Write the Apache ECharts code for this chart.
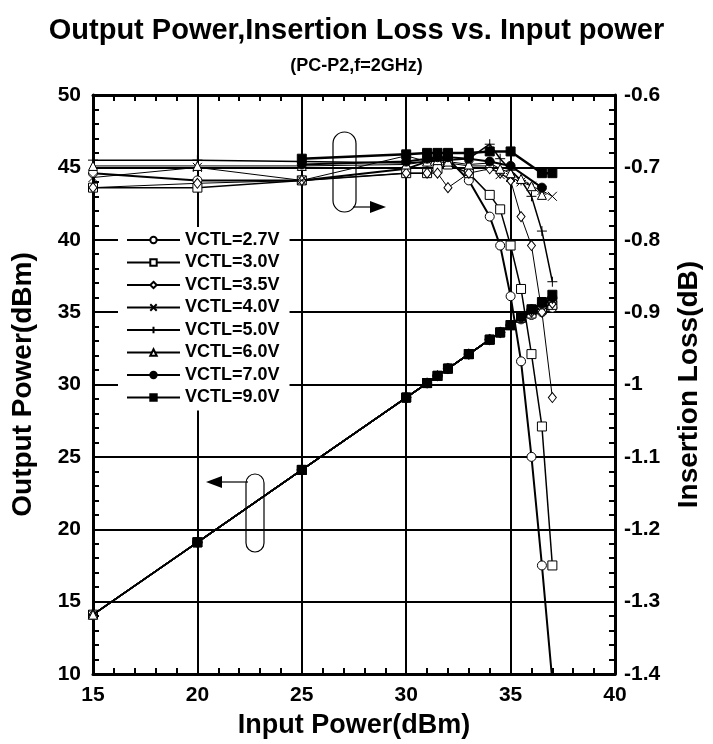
<!DOCTYPE html>
<html>
<head>
<meta charset="utf-8">
<script src="https://cdn.jsdelivr.net/npm/echarts@6/dist/echarts.min.js"></script>
<style>
html, body { margin: 0; padding: 0; background: #fff; }
#main { width: 713px; height: 744px; }
</style>
</head>
<body>
<div id="main"></div>
<script>
var FONT = '"Liberation Sans", Arial, sans-serif';

// input power (dBm), x positions of the measured points
var inputPower = [15, 20, 25, 30, 31, 31.5, 32, 33, 34, 34.5, 35, 35.5, 36, 36.5, 37];
var vctlNames = ['VCTL=2.7V', 'VCTL=3.0V', 'VCTL=3.5V', 'VCTL=4.0V', 'VCTL=5.0V', 'VCTL=6.0V', 'VCTL=7.0V', 'VCTL=9.0V'];
var xTicks = [15, 20, 25, 30, 35, 40];

// output power (dBm), left axis
var outP27 = [14.1, 19.1, 24.1, 29.1, 30.1, 30.6, 31.1, 32.1, 33.1, 33.6, 34.1, 34.5, 34.8, 35.0, 35.3];
var outP30 = [14.1, 19.1, 24.1, 29.1, 30.1, 30.6, 31.1, 32.1, 33.1, 33.6, 34.1, 34.6, 34.9, 35.2, 35.5];
var outP35 = [14.1, 19.1, 24.1, 29.1, 30.1, 30.6, 31.1, 32.1, 33.1, 33.6, 34.1, 34.6, 35.0, 35.3, 35.6];
var outP40 = [14.1, 19.1, 24.1, 29.1, 30.1, 30.6, 31.1, 32.1, 33.1, 33.6, 34.1, 34.7, 35.1, 35.5, 35.8];
var outP50 = [14.1, 19.1, 24.1, 29.1, 30.1, 30.6, 31.1, 32.1, 33.1, 33.6, 34.1, 34.7, 35.1, 35.5, 35.9];
var outP60 = [14.1, 19.1, 24.1, 29.1, 30.1, 30.6, 31.1, 32.1, 33.1, 33.6, 34.1, 34.7, 35.2, 35.6, 36.0];
var outP70 = [null, 19.1, 24.1, 29.1, 30.1, 30.6, 31.1, 32.1, 33.1, 33.6, 34.1, 34.7, 35.2, 35.6, 36.0];
var outP90 = [null, 19.1, 24.1, 29.1, 30.1, 30.6, 31.1, 32.1, 33.1, 33.6, 34.1, 34.7, 35.2, 35.7, 36.2];

// insertion loss (dB), right axis
var loss27 = [-0.708, -0.718, -0.718, -0.702, -0.692, -0.688, -0.688, -0.718, -0.768, -0.808, -0.878, -0.968, -1.100, -1.250, -1.410];
var loss30 = [-0.728, -0.728, -0.718, -0.708, -0.708, -0.702, -0.696, -0.708, -0.738, -0.758, -0.808, -0.868, -0.958, -1.058, -1.250];
var loss35 = [-0.728, -0.722, -0.718, -0.708, -0.708, -0.708, -0.728, -0.708, -0.702, -0.708, -0.718, -0.768, -0.808, -0.900, -1.018];
var loss40 = [-0.714, -0.700, -0.718, -0.684, -0.692, -0.692, -0.694, -0.698, -0.698, -0.710, -0.714, -0.720, -0.726, -0.732, -0.740];
var loss50 = [-0.690, -0.690, -0.692, -0.694, -0.692, -0.690, -0.690, -0.688, -0.668, -0.688, -0.704, -0.718, -0.740, -0.788, -0.858];
var loss60 = [-0.698, -0.698, -0.698, -0.696, -0.692, -0.690, -0.692, -0.696, -0.694, -0.702, -0.708, -0.716, -0.726, -0.738, null];
var loss70 = [null, null, -0.696, -0.692, -0.688, -0.686, -0.686, -0.688, -0.692, null, -0.698, null, null, -0.728, null];
var loss90 = [null, null, -0.688, -0.682, -0.680, -0.680, -0.680, -0.680, -0.678, null, -0.678, null, null, -0.708, -0.708];

var outputs = [outP27, outP30, outP35, outP40, outP50, outP60, outP70, outP90];
var losses = [loss27, loss30, loss35, loss40, loss50, loss60, loss70, loss90];

var symbols = [
  { s: 'circle', size: 9, fill: '#fff' },
  { s: 'rect', size: 9, fill: '#fff' },
  { s: 'diamond', size: [8, 10], fill: '#fff' },
  { s: 'path://M0,0L10,10M10,0L0,10', size: 9, fill: '#000' },
  { s: 'path://M5,0L5,10M0,5L10,5', size: 10, fill: '#000' },
  { s: 'triangle', size: 9, fill: '#fff' },
  { s: 'circle', size: 9, fill: '#000' },
  { s: 'rect', size: 9, fill: '#000' }
];
var lossWidth = [2, 1.5, 1, 1, 1.5, 1, 2, 2.5];

function pairs(arr) {
  return inputPower.map(function (x, i) { return [x, arr[i]]; });
}

function makeSeries(i, arr, yIndex, width) {
  var sym = symbols[i];
  return {
    name: vctlNames[i],
    type: 'line',
    yAxisIndex: yIndex,
    data: pairs(arr),
    symbol: sym.s,
    symbolSize: sym.size,
    showSymbol: true,
    connectNulls: true,
    clip: true,
    lineStyle: { color: '#000', width: width },
    itemStyle: { color: sym.fill, borderColor: '#000', borderWidth: 1 },
    z: 2 + i
  };
}

var series = [];
for (var i = 0; i < 8; i++) {
  series.push(makeSeries(i, outputs[i], 0, 1.5));
  series.push(makeSeries(i, losses[i], 1, lossWidth[i]));
}

var bold = { fontFamily: FONT, fontWeight: 'bold', color: '#000' };
var minor = { show: true, splitNumber: 5, length: 6, lineStyle: { color: '#000', width: 2 } };
var edge = { show: true, lineStyle: { color: '#000', width: 3 } };

var option = {
  animation: false,
  backgroundColor: '#fff',
  title: [
    { text: 'Output Power,Insertion Loss vs. Input power', left: 'center', top: 11,
      textStyle: Object.assign({ fontSize: 29 }, bold) },
    { text: '(PC-P2,f=2GHz)', left: 'center', top: 52,
      textStyle: Object.assign({ fontSize: 18 }, bold) }
  ],
  grid: { left: 93, right: 98, top: 95, bottom: 65 },
  legend: {
    orient: 'vertical', left: 118, top: 227,
    itemWidth: 53, itemHeight: 8, itemGap: 4.5,
    backgroundColor: '#fff', padding: [4, 10, 4, 8],
    selectedMode: false,
    data: vctlNames,
    textStyle: Object.assign({ fontSize: 18 }, bold)
  },
  xAxis: [
    {
      type: 'value', min: 15, max: 40, interval: 5, position: 'bottom',
      name: 'Input Power(dBm)', nameLocation: 'middle', nameGap: 38,
      nameTextStyle: Object.assign({ fontSize: 27 }, bold),
      axisLine: edge,
      axisTick: { show: false, inside: true },
      minorTick: minor,
      splitLine: { show: true, lineStyle: { color: '#000', width: 2 } },
      axisLabel: Object.assign({ fontSize: 21, margin: 11,
        formatter: function (v) { return xTicks.indexOf(v) >= 0 ? String(v) : ''; } }, bold)
    },
    {
      type: 'value', min: 15, max: 40, interval: 5, position: 'top',
      axisLine: edge,
      axisTick: { show: false, inside: true },
      minorTick: minor,
      splitLine: { show: false },
      axisLabel: { show: false }
    }
  ],
  yAxis: [
    {
      type: 'value', min: 10, max: 50, interval: 5, position: 'left',
      name: 'Output Power(dBm)', nameLocation: 'middle', nameGap: 56, nameRotate: 90,
      nameTextStyle: Object.assign({ fontSize: 28 }, bold),
      axisLine: edge,
      axisTick: { show: false, inside: true },
      minorTick: minor,
      splitLine: { show: true, lineStyle: { color: '#000', width: 2 } },
      axisLabel: Object.assign({ fontSize: 21, margin: 12 }, bold)
    },
    {
      type: 'value', min: -1.4, max: -0.6, interval: 0.1, position: 'right',
      name: 'Insertion Loss(dB)', nameLocation: 'middle', nameGap: 60, nameRotate: 90,
      nameTextStyle: Object.assign({ fontSize: 28 }, bold),
      axisLine: edge,
      axisTick: { show: false, inside: true },
      minorTick: minor,
      splitLine: { show: false },
      axisLabel: Object.assign({ fontSize: 21, margin: 9,
        formatter: function (v) { return String(+v.toFixed(1)); } }, bold)
    }
  ],
  graphic: [
    // capsule + arrow pointing to the right axis
    { type: 'rect', shape: { x: 333, y: 132, width: 23, height: 80, r: 11.5 },
      style: { fill: 'none', stroke: '#000', lineWidth: 1.2 }, z: 20 },
    { type: 'line', shape: { x1: 353, y1: 207, x2: 372, y2: 207 },
      style: { stroke: '#000', lineWidth: 1.2 }, z: 20 },
    { type: 'polygon', shape: { points: [[370, 201], [370, 213], [386, 207]] },
      style: { fill: '#000' }, z: 20 },
    // capsule + arrow pointing to the left axis
    { type: 'rect', shape: { x: 246, y: 474, width: 18, height: 78, r: 9 },
      style: { fill: 'none', stroke: '#000', lineWidth: 1.2 }, z: 20 },
    { type: 'line', shape: { x1: 248, y1: 482, x2: 220, y2: 482 },
      style: { stroke: '#000', lineWidth: 1.2 }, z: 20 },
    { type: 'polygon', shape: { points: [[222, 476], [222, 488], [206, 482]] },
      style: { fill: '#000' }, z: 20 }
  ],
  series: series
};

var chart = echarts.init(document.getElementById('main'));
chart.setOption(option);
</script>
</body>
</html>
